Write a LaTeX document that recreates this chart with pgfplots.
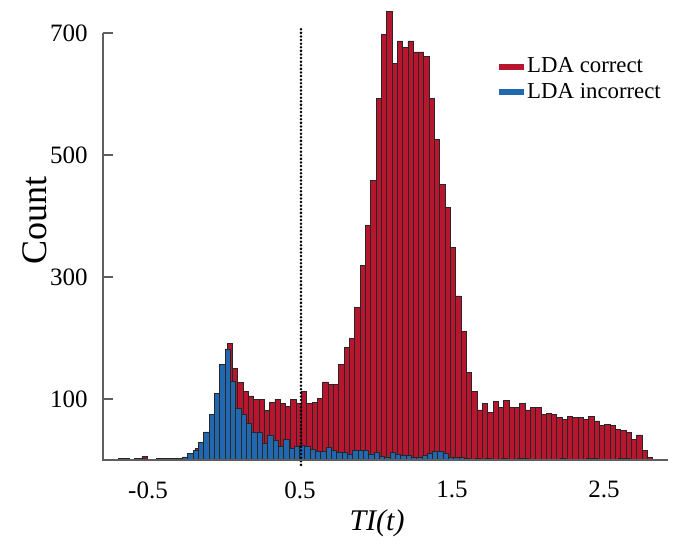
\documentclass[border=0pt]{standalone}
\usepackage{fontspec}
\setmainfont{Liberation Serif}
\usepackage{pgfplots}
\pgfplotsset{compat=1.18}
\usepackage{pgfplotstable}
\definecolor{ldared}{RGB}{183,22,46}
\definecolor{ldablue}{RGB}{34,104,176}
\definecolor{axgray}{RGB}{95,95,95}

\pgfplotstableread{
x y
-0.6625 1
-0.6275 1
-0.5925 1
-0.5575 1
-0.5225 6
-0.4875 1
-0.4525 1
-0.4175 3
-0.3825 1
-0.3475 3
-0.3125 3
-0.2775 3
-0.2425 4
-0.2075 5
-0.1725 19
-0.1375 20
-0.1025 30
-0.0675 50
-0.0325 80
0.0025 120
0.0375 191
0.0725 150
0.1075 127
0.1425 112
0.1775 105
0.2125 100
0.2475 100
0.2825 81
0.3175 94
0.3525 100
0.3875 92
0.4225 88
0.4575 100
0.4925 92
0.5275 112
0.5625 92
0.5975 94
0.6325 101
0.6675 128
0.7025 124
0.7375 124
0.7725 157
0.8075 184
0.8425 199
0.8775 250
0.9125 319
0.9475 384
0.9825 458
1.0175 592
1.0525 698
1.0875 736
1.1225 650
1.1575 687
1.1925 677
1.2275 687
1.2625 669
1.2975 669
1.3325 661
1.3675 592
1.4025 526
1.4375 451
1.4725 414
1.5075 348
1.5425 269
1.5775 211
1.6125 144
1.6475 112
1.6825 82
1.7175 92
1.7525 78
1.7875 96
1.8225 86
1.8575 97
1.8925 86
1.9275 86
1.9625 92
1.9975 82
2.0325 86
2.0675 86
2.1025 74
2.1375 76
2.1725 74
2.2075 70
2.2425 66
2.2775 71
2.3125 70
2.3475 70
2.3825 67
2.4175 71
2.4525 64
2.4875 56
2.5225 58
2.5575 56
2.5925 50
2.6275 49
2.6625 45
2.6975 34
2.7325 41
2.7675 15
2.8025 4
}\redtab

\pgfplotstableread{
x y
-0.6755 2
-0.6405 2
-0.6055 1
-0.5705 2
-0.5355 2
-0.5005 0
-0.4655 1
-0.4305 2
-0.3955 2
-0.3605 2
-0.3255 2
-0.2905 3
-0.2555 5
-0.2205 11
-0.1855 15
-0.1505 29.5
-0.1155 46
-0.0805 74
-0.0455 109
-0.0105 156
0.0245 182
0.0595 129
0.0945 84
0.1295 75
0.1645 60
0.1995 46
0.2345 46
0.2695 27
0.3045 41
0.3395 32
0.3745 22
0.4095 34
0.4445 19
0.4795 22
0.5145 24
0.5495 22
0.5845 18
0.6195 14
0.6545 14
0.6895 21
0.7245 16
0.7595 12
0.7945 13
0.8295 10
0.8645 15
0.8995 15
0.9345 15
0.9695 10
1.0045 13
1.0395 6
1.0745 5
1.1095 12
1.1445 10
1.1795 7
1.2145 7
1.2495 4
1.2845 5
1.3195 8
1.3545 11
1.3895 14
1.4245 14
1.4595 11
1.4945 4
1.5295 4
1.5645 4
1.5995 3
1.6345 1
1.6695 2
1.7045 1
1.7395 2
1.7745 1
1.8095 1
1.8445 2
1.8795 1
1.9145 1
1.9495 2
1.9845 2
2.0195 1
2.0545 1
2.0895 1
2.1245 1
2.1595 1
2.1945 1
2.2295 2
2.2645 1
2.2995 1
2.3345 1
2.3695 1
2.4045 2
2.4395 2
2.4745 1
2.5095 1
2.5445 1
2.5795 1
2.6145 2
2.6495 2
2.6845 1
2.7195 1
2.7545 0
2.7895 0
}\bluetab

\begin{document}
\begin{tikzpicture}
\begin{axis}[
  scale only axis,
  width=282.49pt, height=225.7pt,
  xmin=-0.796, xmax=2.921, ymin=0, ymax=740,
  axis x line=bottom, axis y line=left,
  axis line style={draw=none},
  clip=false,
  xtick={-0.5,0.5,1.5,2.5}, xticklabels={-0.5,0.5,1.5,2.5},
  ytick={100,300,500,700}, yticklabels={100,300,500,700},
  x tick style={draw=none},
  y tick style={axgray, line width=0.6pt},
  major tick length=5pt,
  tick align=inside,
  xticklabel style={font=\fontsize{12.5}{15}\selectfont, anchor=north, inner sep=0pt, yshift=-10.5pt},
  yticklabel style={font=\fontsize{12.5}{15}\selectfont, anchor=east, inner sep=0pt, xshift=-7.5pt},
  xlabel={\textit{TI(t)}},
  xlabel style={font=\fontsize{15}{18}\selectfont, at={(axis description cs:0.485,-0.1396)}, anchor=center},
  ylabel={Count},
  ylabel style={font=\fontsize{18}{21}\selectfont, at={(axis description cs:-0.1204,0.5316)}, anchor=center},
  legend style={draw=none, fill=none, at={(axis description cs:0.7009,0.899)}, anchor=north west,
    font=\fontsize{11.4}{13}\selectfont, inner sep=0pt, row sep=0.8pt, nodes={inner sep=1.5pt}},
  legend cell align=left,
]
\addplot[ybar, bar width=0.035, bar shift=0pt, fill=ldared, draw=black!85, line width=0.4pt,
  legend image code/.code={\fill[ldared] (0pt,-1.3pt) rectangle (12pt,1.3pt);}] table[x=x,y=y] {\redtab};
\addlegendentry{LDA correct}
\addplot[ybar, bar width=0.035, bar shift=0pt, fill=ldablue, draw=black!85, line width=0.4pt,
  legend image code/.code={\fill[ldablue] (0pt,-1.3pt) rectangle (12pt,1.3pt);}] table[x=x,y=y] {\bluetab};
\addlegendentry{LDA incorrect}
\addplot[black, line width=1.4pt, line cap=round, dash pattern=on 0pt off 1.8pt, forget plot]
  coordinates {(0.5066,-8) (0.5066,712)};
\draw[axgray, line width=0.6pt] (axis cs:-0.796,700) -- (axis cs:-0.796,0) -- (axis cs:2.921,0);
\coordinate (BL) at (axis cs:-1.4737,-142.6);
\coordinate (TR) at (axis cs:2.9539,754.1);
\end{axis}
\pgfresetboundingbox
\path (BL) rectangle (TR);
\end{tikzpicture}
\end{document}
